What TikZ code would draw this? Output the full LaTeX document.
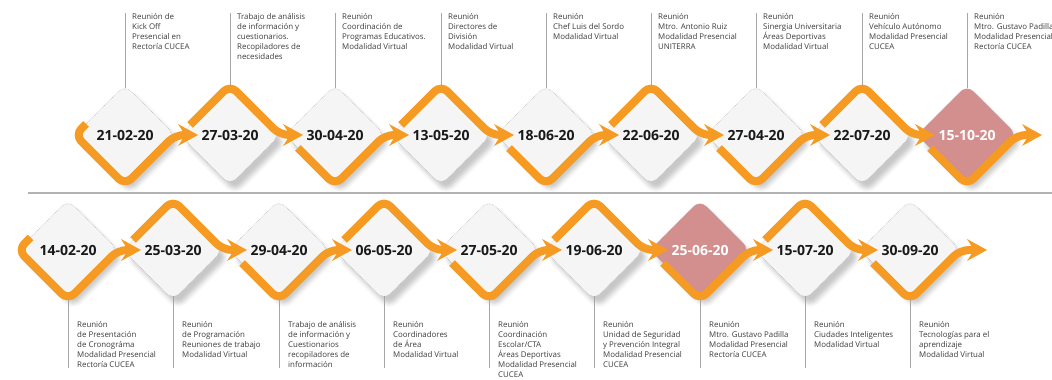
\documentclass[tikz,border=0pt]{standalone}
\usepackage{fontspec}
\setmainfont{Open Sans}
\usetikzlibrary{arrows.meta,shapes.geometric,calc,shadows.blur}
\definecolor{hitoorange}{HTML}{F59B23}
\definecolor{hitopink}{HTML}{D38E8E}
\definecolor{hitofill}{HTML}{F5F5F5}
\definecolor{notegray}{HTML}{3C3C3C}
\definecolor{stemgray}{HTML}{A6A6A6}
\tikzset{hito/.style={ % Rounded diamond holding a date
            shape=diamond, aspect=1,
            minimum width=100pt, minimum height=100pt,
            inner sep=0pt, outer sep=0pt,
            rounded corners=9pt,
            fill=hitofill, draw=gray!55, densely dotted, line width=0.6pt,
            blur shadow={shadow xshift=5pt, shadow yshift=-7pt, shadow blur radius=4pt, shadow opacity=22},
            font=\fontsize{14}{16}\selectfont\bfseries, text=black!90},
        hitoalt/.style={hito, fill=hitopink, text=white}, % Highlighted date
        nota/.style={ % Text of each meeting
            anchor=north west, align=left, inner sep=0pt,
            font=\fontsize{7.9}{10}\selectfont, text=notegray},
        stem/.style={draw=stemgray, line width=1pt, shorten <=-3.5pt},
        divisor/.style={draw=gray!60, line width=1.3pt},
        ruta/.style={ % Orange path with arrow to the next date
            draw=hitoorange, line width=8pt, rounded corners=9pt,
            -{Stealth[length=20pt,width=22pt,inset=7pt,line width=0pt]}}
        }
\begin{document}
\begin{tikzpicture}[x=1pt,y=1pt]
    \useasboundingbox (0,0) rectangle (1052,380);

    % top row
    \node[hito]    (a1) at (125,245) {21-02-20};
    \node[hito]    (a2) at (230,245) {27-03-20};
    \node[hito]    (a3) at (335,245) {30-04-20};
    \node[hito]    (a4) at (441,245) {13-05-20};
    \node[hito]    (a5) at (546,245) {18-06-20};
    \node[hito]    (a6) at (651,245) {22-06-20};
    \node[hito]    (a7) at (756,245) {27-04-20};
    \node[hito]    (a8) at (862,245) {22-07-20};
    \node[hitoalt] (a9) at (967,245) {15-10-20};

    % bottom row
    \node[hito]    (b1) at (68,130)  {14-02-20};
    \node[hito]    (b2) at (173,130) {25-03-20};
    \node[hito]    (b3) at (279,130) {29-04-20};
    \node[hito]    (b4) at (384,130) {06-05-20};
    \node[hito]    (b5) at (489,130) {27-05-20};
    \node[hito]    (b6) at (594,130) {19-06-20};
    \node[hitoalt] (b7) at (700,130) {25-06-20};
    \node[hito]    (b8) at (805,130) {15-07-20};
    \node[hito]    (b9) at (910,130) {30-09-20};

    \draw[divisor] (28,187) -- (1052,187);

    \coordinate (topline) at (0,367);
    \coordinate (botline) at (0,12);
    \coordinate (finA) at (1042,245);
    \coordinate (finB) at (987,130);

    \draw
        (a1) edge[stem] (a1 |- topline)
        (a2) edge[stem] (a2 |- topline)
        (a3) edge[stem] (a3 |- topline)
        (a4) edge[stem] (a4 |- topline)
        (a5) edge[stem] (a5 |- topline)
        (a6) edge[stem] (a6 |- topline)
        (a7) edge[stem] (a7 |- topline)
        (a8) edge[stem] (a8 |- topline)
        (a9) edge[stem] (a9 |- topline)
        (b1) edge[stem] (b1 |- botline)
        (b2) edge[stem] (b2 |- botline)
        (b3) edge[stem] (b3 |- botline)
        (b4) edge[stem] (b4 |- botline)
        (b5) edge[stem] (b5 |- botline)
        (b6) edge[stem] (b6 |- botline)
        (b7) edge[stem] (b7 |- botline)
        (b8) edge[stem] (b8 |- botline)
        (b9) edge[stem] (b9 |- botline);

    % orange path, top row
    \draw[ruta] ($(a1.west)!0.22!(a1.north)$) -- (a1.west) -- (a1.south) -- (a1.east) -- ([xshift=18pt]a2.west);
    \draw[ruta] ($(a2.west)!0.2!(a2.north)$) -- (a2.north) -- (a2.east) -- ([xshift=18pt]a3.west);
    \draw[ruta] ($(a3.west)!0.26!(a3.south)$) -- (a3.south) -- (a3.east) -- ([xshift=18pt]a4.west);
    \draw[ruta] ($(a4.west)!0.2!(a4.north)$) -- (a4.north) -- (a4.east) -- ([xshift=18pt]a5.west);
    \draw[ruta] ($(a5.west)!0.26!(a5.south)$) -- (a5.south) -- (a5.east) -- ([xshift=18pt]a6.west);
    \draw[ruta] ($(a6.west)!0.2!(a6.north)$) -- (a6.north) -- (a6.east) -- ([xshift=18pt]a7.west);
    \draw[ruta] ($(a7.west)!0.26!(a7.south)$) -- (a7.south) -- (a7.east) -- ([xshift=18pt]a8.west);
    \draw[ruta] ($(a8.west)!0.2!(a8.north)$) -- (a8.north) -- (a8.east) -- ([xshift=18pt]a9.west);
    \draw[ruta] ($(a9.west)!0.26!(a9.south)$) -- (a9.south) -- (a9.east) -- (finA);

    % orange path, bottom row
    \draw[ruta] ($(b1.west)!0.25!(b1.north)$) -- (b1.west) -- (b1.south) -- (b1.east) -- ([xshift=18pt]b2.west);
    \draw[ruta] ($(b2.west)!0.2!(b2.north)$) -- (b2.north) -- (b2.east) -- ([xshift=18pt]b3.west);
    \draw[ruta] ($(b3.west)!0.26!(b3.south)$) -- (b3.south) -- (b3.east) -- ([xshift=18pt]b4.west);
    \draw[ruta] ($(b4.west)!0.2!(b4.north)$) -- (b4.north) -- (b4.east) -- ([xshift=18pt]b5.west);
    \draw[ruta] ($(b5.west)!0.26!(b5.south)$) -- (b5.south) -- (b5.east) -- ([xshift=18pt]b6.west);
    \draw[ruta] ($(b6.west)!0.2!(b6.north)$) -- (b6.north) -- (b6.east) -- ([xshift=18pt]b7.west);
    \draw[ruta] ($(b7.west)!0.26!(b7.south)$) -- (b7.south) -- (b7.east) -- ([xshift=18pt]b8.west);
    \draw[ruta] ($(b8.west)!0.2!(b8.north)$) -- (b8.north) -- (b8.east) -- ([xshift=18pt]b9.west);
    \draw[ruta] ($(b9.west)!0.26!(b9.south)$) -- (b9.south) -- (b9.east) -- (finB);

    % meeting notes, top row
    \node[nota] (na1) at (132,367) {Reunión de\\Kick Off\\Presencial en\\Rectoría CUCEA};
    \node[nota] (na2) at (237,367) {Trabajo de análisis\\de información y\\cuestionarios.\\Recopiladores de\\necesidades};
    \node[nota] (na3) at (342,367) {Reunión\\Coordinación de\\Programas Educativos.\\Modalidad Virtual};
    \node[nota] (na4) at (448,367) {Reunión\\Directores de\\División\\Modalidad Virtual};
    \node[nota] (na5) at (553,367) {Reunión\\Chef Luis del Sordo\\Modalidad Virtual};
    \node[nota] (na6) at (658,367) {Reunión\\Mtro. Antonio Ruiz\\Modalidad Presencial\\UNITERRA};
    \node[nota] (na7) at (763,367) {Reunión\\Sinergia Universitaria\\Áreas Deportivas\\Modalidad Virtual};
    \node[nota] (na8) at (869,367) {Reunión\\Vehículo Autónomo\\Modalidad Presencial\\CUCEA};
    \node[nota] (na9) at (974,367) {Reunión\\Mtro. Gustavo Padilla\\Modalidad Presencial\\Rectoría CUCEA};

    % meeting notes, bottom row
    \node[nota] (nb1) at (77,59)  {Reunión\\de Presentación\\de Cronográma\\Modalidad Presencial\\Rectoría CUCEA};
    \node[nota] (nb2) at (182,59) {Reunión\\de Programación\\Reuniones de trabajo\\Modalidad Virtual};
    \node[nota] (nb3) at (288,59) {Trabajo de análisis\\de información y\\Cuestionarios\\recopiladores de\\información};
    \node[nota] (nb4) at (393,59) {Reunión\\Coordinadores\\de Área\\Modalidad Virtual};
    \node[nota] (nb5) at (498,59) {Reunión\\Coordinación\\Escolar/CTA\\Áreas Deportivas\\Modalidad Presencial\\CUCEA};
    \node[nota] (nb6) at (603,59) {Reunión\\Unidad de Seguridad\\y Prevención Integral\\Modalidad Presencial\\CUCEA};
    \node[nota] (nb7) at (709,59) {Reunión\\Mtro. Gustavo Padilla\\Modalidad Presencial\\Rectoría CUCEA};
    \node[nota] (nb8) at (814,59) {Reunión\\Ciudades Inteligentes\\Modalidad Virtual};
    \node[nota] (nb9) at (919,59) {Reunión\\Tecnologías para el\\aprendizaje\\Modalidad Virtual};
\end{tikzpicture}
\end{document}
